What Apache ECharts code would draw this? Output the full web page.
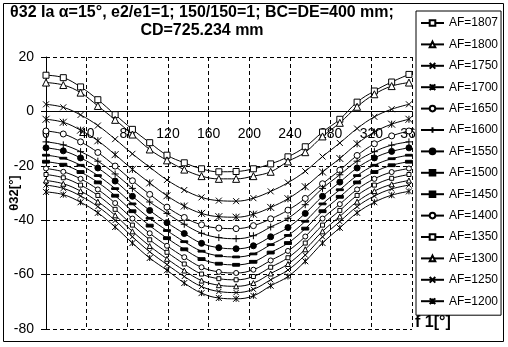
<!DOCTYPE html>
<html>
<head>
<meta charset="utf-8">
<script src="https://cdn.jsdelivr.net/npm/echarts@6/dist/echarts.min.js"></script>
<style>
  html, body { margin: 0; padding: 0; background: #fff; }
  #chart { width: 508px; height: 347px; }
</style>
</head>
<body>
<div id="chart"></div>
<script>
  // angle f1 [deg]
  const angles = [0, 17, 34, 51, 68, 85, 102, 119, 136, 153, 170, 187, 204, 221, 238, 255, 272, 289, 306, 323, 340, 357];

  // theta32 [deg] for each AF
  const af1807 = [13.3, 12.4, 9.0, 4.3, -1.2, -6.6, -11.5, -16.1, -18.9, -21.1, -22.2, -22.1, -21.1, -19.3, -16.7, -13.0, -7.6, -2.9, 3.4, 7.5, 10.8, 13.6];
  const af1800 = [10.6, 9.7, 6.9, 2.0, -3.1, -8.5, -14.0, -18.0, -21.4, -23.8, -24.8, -24.8, -23.8, -22.2, -18.4, -15.0, -9.2, -4.2, 1.7, 6.3, 9.3, 10.6];
  const af1750 = [2.6, 1.5, -1.3, -5.2, -10.2, -15.6, -20.5, -25.2, -28.9, -31.6, -32.8, -33.0, -31.9, -29.4, -26.2, -22.0, -16.6, -11.6, -6.3, -2.0, 0.8, 2.6];
  const af1700 = [-2.9, -4.0, -6.9, -10.8, -15.9, -21.3, -26.3, -31.0, -34.8, -37.5, -38.7, -38.9, -37.8, -35.3, -32.1, -27.7, -22.3, -17.3, -11.9, -7.6, -4.7, -2.9];
  const af1650 = [-7.2, -8.3, -11.2, -15.1, -20.1, -25.5, -30.5, -35.2, -39.0, -41.7, -42.9, -43.1, -42.0, -39.5, -36.3, -32.0, -26.6, -21.6, -16.2, -11.9, -9.0, -7.2];
  const af1600 = [-11.2, -12.3, -14.8, -18.3, -23.0, -28.3, -33.3, -37.5, -41.5, -44.8, -46.4, -46.8, -45.7, -42.5, -39.3, -34.3, -28.3, -23.3, -18.3, -14.8, -12.4, -11.2];
  const af1550 = [-13.4, -14.5, -17.1, -20.8, -25.6, -31.2, -36.4, -40.9, -44.9, -48.5, -50.1, -50.5, -49.4, -46.1, -42.7, -37.5, -31.2, -26.0, -20.8, -17.1, -14.7, -13.4];
  const af1500 = [-16.1, -17.2, -19.8, -23.6, -28.4, -34.0, -39.3, -43.8, -47.9, -51.4, -53.1, -53.5, -52.4, -49.0, -45.6, -40.4, -34.0, -28.8, -23.6, -19.8, -17.4, -16.1];
  const af1450 = [-18.5, -19.6, -22.3, -26.1, -31.0, -36.7, -42.0, -46.6, -50.7, -54.3, -56.0, -56.4, -55.3, -51.9, -48.4, -43.1, -36.7, -31.4, -26.1, -22.3, -19.8, -18.5];
  const af1400 = [-21.0, -22.2, -24.8, -28.7, -33.7, -39.4, -44.8, -49.4, -53.6, -57.3, -59.0, -59.4, -58.2, -54.8, -51.3, -46.0, -39.4, -34.1, -28.7, -24.8, -22.3, -21.0];
  const af1350 = [-23.2, -24.4, -27.1, -30.9, -36.0, -41.8, -47.2, -51.8, -56.1, -59.8, -61.5, -61.9, -60.7, -57.3, -53.8, -48.4, -41.8, -36.4, -30.9, -27.1, -24.6, -23.2];
  const af1300 = [-25.4, -26.6, -29.3, -33.2, -38.2, -44.1, -49.5, -54.2, -58.5, -62.2, -63.9, -64.3, -63.1, -59.6, -56.1, -50.7, -44.1, -38.6, -33.2, -29.3, -26.8, -25.4];
  const af1250 = [-27.1, -28.3, -31.1, -35.0, -40.1, -46.1, -51.6, -56.3, -60.7, -64.4, -66.2, -66.6, -65.4, -61.9, -58.3, -52.8, -46.1, -40.5, -35.0, -31.1, -28.5, -27.1];
  const af1200 = [-29.6, -30.6, -33.4, -37.3, -42.5, -48.4, -53.9, -58.4, -63.1, -66.8, -68.6, -68.9, -67.8, -64.1, -60.7, -55.1, -48.4, -42.8, -37.3, -33.4, -30.8, -29.4];

  const names = ['AF=1807', 'AF=1800', 'AF=1750', 'AF=1700', 'AF=1650', 'AF=1600', 'AF=1550',
                 'AF=1500', 'AF=1450', 'AF=1400', 'AF=1350', 'AF=1300', 'AF=1250', 'AF=1200'];
  const values = [af1807, af1800, af1750, af1700, af1650, af1600, af1550,
                  af1500, af1450, af1400, af1350, af1300, af1250, af1200];

  const xPath = 'path://M0,0L10,10M0,10L10,0';
  const plusPath = 'path://M5,0L5,10M0,5L10,5';
  const starPath = 'path://M0,0L10,10M0,10L10,0M5,0L5,10';
  const dashPath = 'path://M0,0L10,0L10,2.5L0,2.5Z';
  const thickDashPath = 'path://M0,0L10,0L10,4L0,4Z';

  // marker per series: [symbol, size, fill]
  const markers = [
    ['rect', 6, '#fff'],
    ['triangle', 7, '#fff'],
    [xPath, 6, '#fff'],
    [starPath, 7, '#fff'],
    ['circle', 6, '#fff'],
    [plusPath, 7, '#fff'],
    ['circle', 6, '#000'],
    [dashPath, 7, '#000'],
    [thickDashPath, 7, '#000'],
    ['circle', 5, '#fff'],
    ['rect', 4, '#fff'],
    ['triangle', 5, '#fff'],
    [xPath, 5, '#fff'],
    [starPath, 6, '#fff']
  ];

  const font = 'Liberation Sans, Arial, sans-serif';

  const series = names.map(function (n, i) {
    return {
      name: n,
      type: 'line',
      smooth: 0.4,
      data: angles.map(function (a, j) { return [a, values[i][j]]; }),
      symbol: markers[i][0],
      symbolSize: markers[i][1],
      symbolKeepAspect: true,
      showAllSymbol: true,
      lineStyle: { color: '#000', width: 1 },
      itemStyle: { color: markers[i][2], borderColor: '#000', borderWidth: 1 },
      emphasis: { disabled: true }
    };
  });

  let myChart = echarts.init(document.getElementById('chart'));
  myChart.setOption({
    animation: false,
    textStyle: { fontFamily: font, color: '#000' },
    title: [
      {
        text: 'θ32 Ia α=15°, e2/e1=1; 150/150=1; BC=DE=400 mm;\nCD=725.234 mm',
        left: 202,
        top: 4,
        padding: 0,
        textAlign: 'center',
        textStyle: { fontFamily: font, fontSize: 16, fontWeight: 'bold', lineHeight: 18, color: '#000' }
      },
      {
        text: 'f 1[°]',
        left: 415,
        top: 315,
        padding: 0,
        textStyle: { fontFamily: font, fontSize: 16, fontWeight: 'bold', color: '#000' }
      }
    ],
    graphic: [
      {
        type: 'rect',
        shape: { x: 3.5, y: 3.5, width: 500, height: 338 },
        style: { fill: 'none', stroke: '#000', lineWidth: 1 },
        z: -1
      }
    ],
    legend: {
      orient: 'vertical',
      left: 416,
      top: 11,
      padding: [6, 3, 8, 4],
      itemWidth: 23,
      itemHeight: 7,
      itemGap: 9.4,
      borderColor: '#000',
      borderWidth: 1,
      backgroundColor: '#fff',
      textStyle: { fontFamily: font, fontSize: 12, color: '#000' },
      data: names
    },
    grid: { left: 46, top: 57, width: 366, height: 272, outerBoundsMode: 'none' },
    xAxis: {
      type: 'value',
      min: 0,
      max: 360,
      interval: 40,
      position: 'bottom',
      offset: -217.6,
      axisLine: { onZero: false, lineStyle: { color: '#000', width: 1 } },
      axisTick: { show: true, length: 4, lineStyle: { color: '#000' } },
      axisLabel: { color: '#000', fontSize: 14, margin: 16, fontFamily: font },
      splitLine: { show: true, lineStyle: { color: '#000', type: [4, 3], width: 1 } }
    },
    yAxis: {
      type: 'value',
      min: -80,
      max: 20,
      interval: 20,
      name: 'θ32[°]',
      nameLocation: 'middle',
      nameGap: 25,
      nameRotate: 90,
      nameMoveOverlap: false,
      nameTextStyle: { fontFamily: font, fontSize: 13, fontWeight: 'bold', color: '#000' },
      axisLine: { show: true, onZero: false, lineStyle: { color: '#000', width: 1 } },
      axisTick: { show: true, length: 5, lineStyle: { color: '#000' } },
      axisLabel: { color: '#000', fontSize: 14, margin: 12, fontFamily: font },
      splitLine: { show: true, lineStyle: { color: '#000', type: [4, 3], width: 1 } }
    },
    series: series
  });
</script>
</body>
</html>
